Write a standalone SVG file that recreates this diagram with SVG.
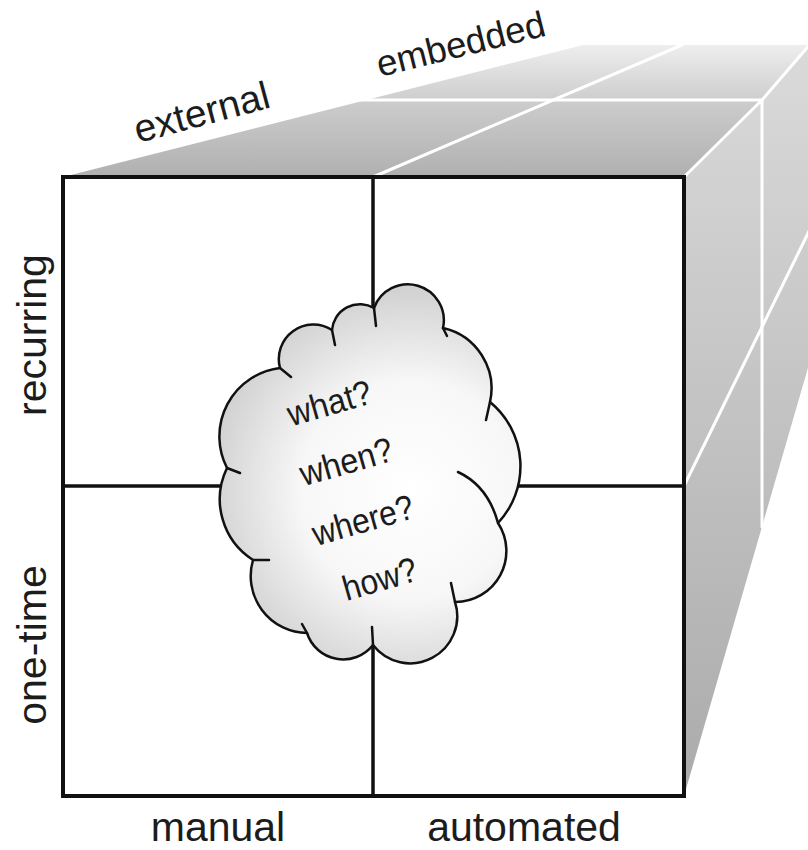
<svg xmlns="http://www.w3.org/2000/svg" width="808" height="850" viewBox="0 0 808 850">
  <defs>
    <linearGradient id="topShade" gradientUnits="userSpaceOnUse" x1="0" y1="177" x2="0" y2="45">
      <stop offset="0" stop-color="#b0b0b0"/>
      <stop offset="0.55" stop-color="#cbcbcb"/>
      <stop offset="1" stop-color="#eeeeee"/>
    </linearGradient>
    <linearGradient id="sideShade" gradientUnits="userSpaceOnUse" x1="0" y1="45" x2="0" y2="796">
      <stop offset="0" stop-color="#dadada"/>
      <stop offset="1" stop-color="#ababab"/>
    </linearGradient>
    <radialGradient id="cloudShade" gradientUnits="userSpaceOnUse" cx="410" cy="490" r="200">
      <stop offset="0" stop-color="#ffffff"/>
      <stop offset="0.55" stop-color="#f7f7f7"/>
      <stop offset="1" stop-color="#d2d2d2"/>
    </radialGradient>
  </defs>
  <style>
    .edge { fill: none; stroke: #ffffff; stroke-width: 3; stroke-linecap: round; stroke-linejoin: round; }
    .grid { fill: none; stroke: #111111; stroke-width: 3.5; }
    .frame { fill: none; stroke: #111111; stroke-width: 4; stroke-linejoin: miter; }
    .label { font-family: "Liberation Sans", Arial, sans-serif; fill: #1c1c1c; }
    .cloud-body { fill: url(#cloudShade); stroke: #111111; stroke-width: 2.5; stroke-linejoin: round; }
    .cloud-line { fill: none; stroke: #111111; stroke-width: 2.5; stroke-linecap: round; stroke-linejoin: round; }
  </style>

  <rect x="0" y="0" width="808" height="850" fill="#ffffff"/>

  <!-- top face of the cube -->
  <g id="top-face">
    <polygon points="63,177 583,45 812,45 762,100 684,177" fill="url(#topShade)"/>
  </g>

  <!-- right face of the cube -->
  <g id="right-face">
    <polygon points="684,177 762,100 812,42 812,354 684,796" fill="url(#sideShade)"/>
  </g>

  <!-- white division lines on the receding faces -->
  <g id="depth-lines">
    <line class="edge" x1="355" y1="100" x2="762" y2="100"/>
    <line class="edge" x1="373" y1="177" x2="682" y2="45"/>
    <polyline class="edge" points="684,177 762,100 812,42"/>
    <line class="edge" x1="762" y1="100" x2="762" y2="527"/>
    <polyline class="edge" points="684,486 762,327 814,221"/>
  </g>

  <!-- front face: 2x2 grid -->
  <g id="front-face">
    <rect x="63" y="177" width="621" height="619" fill="#ffffff"/>
    <line class="grid" x1="373" y1="177" x2="373" y2="796"/>
    <line class="grid" x1="63" y1="486" x2="684" y2="486"/>
    <rect class="frame" x="63" y="177" width="621" height="619"/>
  </g>

  <!-- question cloud -->
  <g id="cloud">
    <path class="cloud-body" d="M374,308 A36,36 0 0 1 443,328 A62,62 0 0 1 490,402 A83,83 0 0 1 498,523 A51,51 0 0 1 455,602 A47,47 0 0 1 373,645 A38,38 0 0 1 307,633 A57,57 0 0 1 253,560 A72,72 0 0 1 227,468 A69,69 0 0 1 280,368 A34.5,34.5 0 0 1 332,330 A28,28 0 0 1 374,308 Z"/>
    <path class="cloud-line" d="M374,308 L376,326 M443,328 L447,336 M490,402 L486,420 M455,602 L451,583 M373,645 L372,627 M307,633 L302,624 M253,560 L269,560 M227,468 L240,473 M280,368 L291,377 M332,330 L335,345 M458,472 Q488,486 498,523"/>
    <g class="label" font-size="35" text-anchor="middle" transform="translate(358,503) rotate(-16)">
      <text x="0" y="-92" textLength="86" lengthAdjust="spacingAndGlyphs">what?</text>
      <text x="0" y="-31" textLength="95" lengthAdjust="spacingAndGlyphs">when?</text>
      <text x="0" y="30" textLength="104" lengthAdjust="spacingAndGlyphs">where?</text>
      <text x="0" y="91" textLength="76" lengthAdjust="spacingAndGlyphs">how?</text>
    </g>
  </g>

  <!-- axis labels -->
  <g id="labels" class="label">
    <text x="138" y="143" font-size="39" transform="rotate(-15 138 143)">external</text>
    <text x="380" y="77" font-size="36.5" transform="rotate(-14 380 77)">embedded</text>
    <text x="46" y="335" font-size="41" text-anchor="middle" transform="rotate(-90 46 335)">recurring</text>
    <text x="46" y="645" font-size="41" text-anchor="middle" transform="rotate(-90 46 645)">one-time</text>
    <text x="218" y="841" font-size="41" text-anchor="middle">manual</text>
    <text x="524" y="841" font-size="41" text-anchor="middle">automated</text>
  </g>
</svg>
